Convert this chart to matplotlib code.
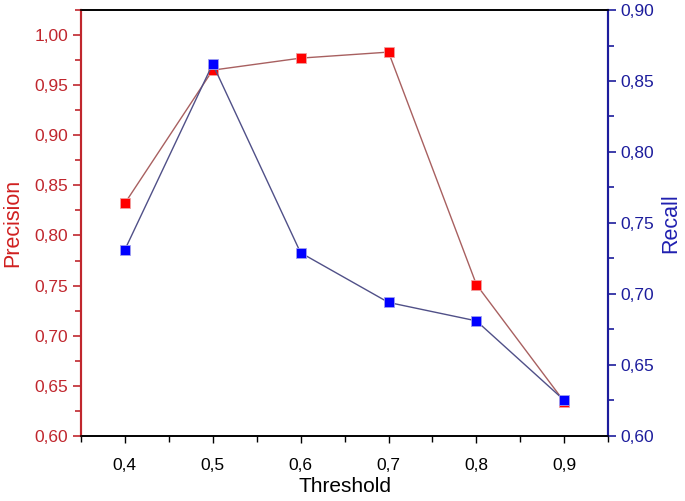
import matplotlib.pyplot as plt
from matplotlib.ticker import FuncFormatter, MultipleLocator

plt.rcParams["font.family"] = ["Liberation Sans", "DejaVu Sans"]

# Data
threshold = [0.4, 0.5, 0.6, 0.7, 0.8, 0.9]
precision = [0.832, 0.965, 0.977, 0.983, 0.751, 0.634]
recall = [0.731, 0.862, 0.729, 0.694, 0.681, 0.625]

red_axis = "#c0262d"
blue_axis = "#1c1c9c"

fig = plt.figure(figsize=(6.85, 5.01), dpi=100)
ax = fig.add_axes([0.118, 0.13, 0.77, 0.85])
ax2 = ax.twinx()

ax.plot(threshold, precision, color="#a86060", lw=1, marker="s", ms=6.5,
        mfc="#ff0000", mec="#f0a0a0", mew=0.6, zorder=3)
ax2.plot(threshold, recall, color="#505088", lw=1, marker="s", ms=6.5,
         mfc="#0000ff", mec="#a0a0f0", mew=0.6, zorder=3)

comma2 = FuncFormatter(lambda v, p: f"{v:.2f}".replace(".", ","))
comma1 = FuncFormatter(lambda v, p: f"{v:.1f}".replace(".", ","))

ax.set_xlim(0.35, 0.95)
ax.set_ylim(0.60, 1.025)
ax2.set_ylim(0.60, 0.90)

ax.xaxis.set_major_locator(MultipleLocator(0.1))
ax.xaxis.set_minor_locator(MultipleLocator(0.05))
ax.yaxis.set_major_locator(MultipleLocator(0.05))
ax.yaxis.set_minor_locator(MultipleLocator(0.025))
ax2.yaxis.set_major_locator(MultipleLocator(0.05))
ax2.yaxis.set_minor_locator(MultipleLocator(0.025))
ax.xaxis.set_major_formatter(comma1)
ax.yaxis.set_major_formatter(comma2)
ax2.yaxis.set_major_formatter(comma2)

ax.tick_params(axis="x", which="major", length=5, width=1, labelsize=12.5, pad=11)
ax.tick_params(axis="x", which="minor", length=4, width=1)
ax.tick_params(axis="y", which="major", length=6, width=1.2, colors=red_axis, labelsize=12.5, pad=3)
ax.tick_params(axis="y", which="minor", length=4, width=1.2, colors=red_axis)
ax2.tick_params(axis="y", which="major", length=6, width=1.2, colors=blue_axis, labelsize=12.5, pad=3)
ax2.tick_params(axis="y", which="minor", length=4, width=1.2, colors=blue_axis)

for a in (ax, ax2):
    a.spines["left"].set_color(red_axis)
    a.spines["right"].set_color(blue_axis)
    a.spines["left"].set_linewidth(1.5)
    a.spines["right"].set_linewidth(1.5)
    a.spines["top"].set_linewidth(1.2)
    a.spines["bottom"].set_linewidth(1.2)

ax.set_xlabel("Threshold", fontsize=15, labelpad=3)
ax.set_ylabel("Precision", fontsize=15.5, color="#d02020", labelpad=8)
ax2.set_ylabel("Recall", fontsize=15.5, color="#2020b0", labelpad=4)

fig.savefig("out.png", dpi=100)
